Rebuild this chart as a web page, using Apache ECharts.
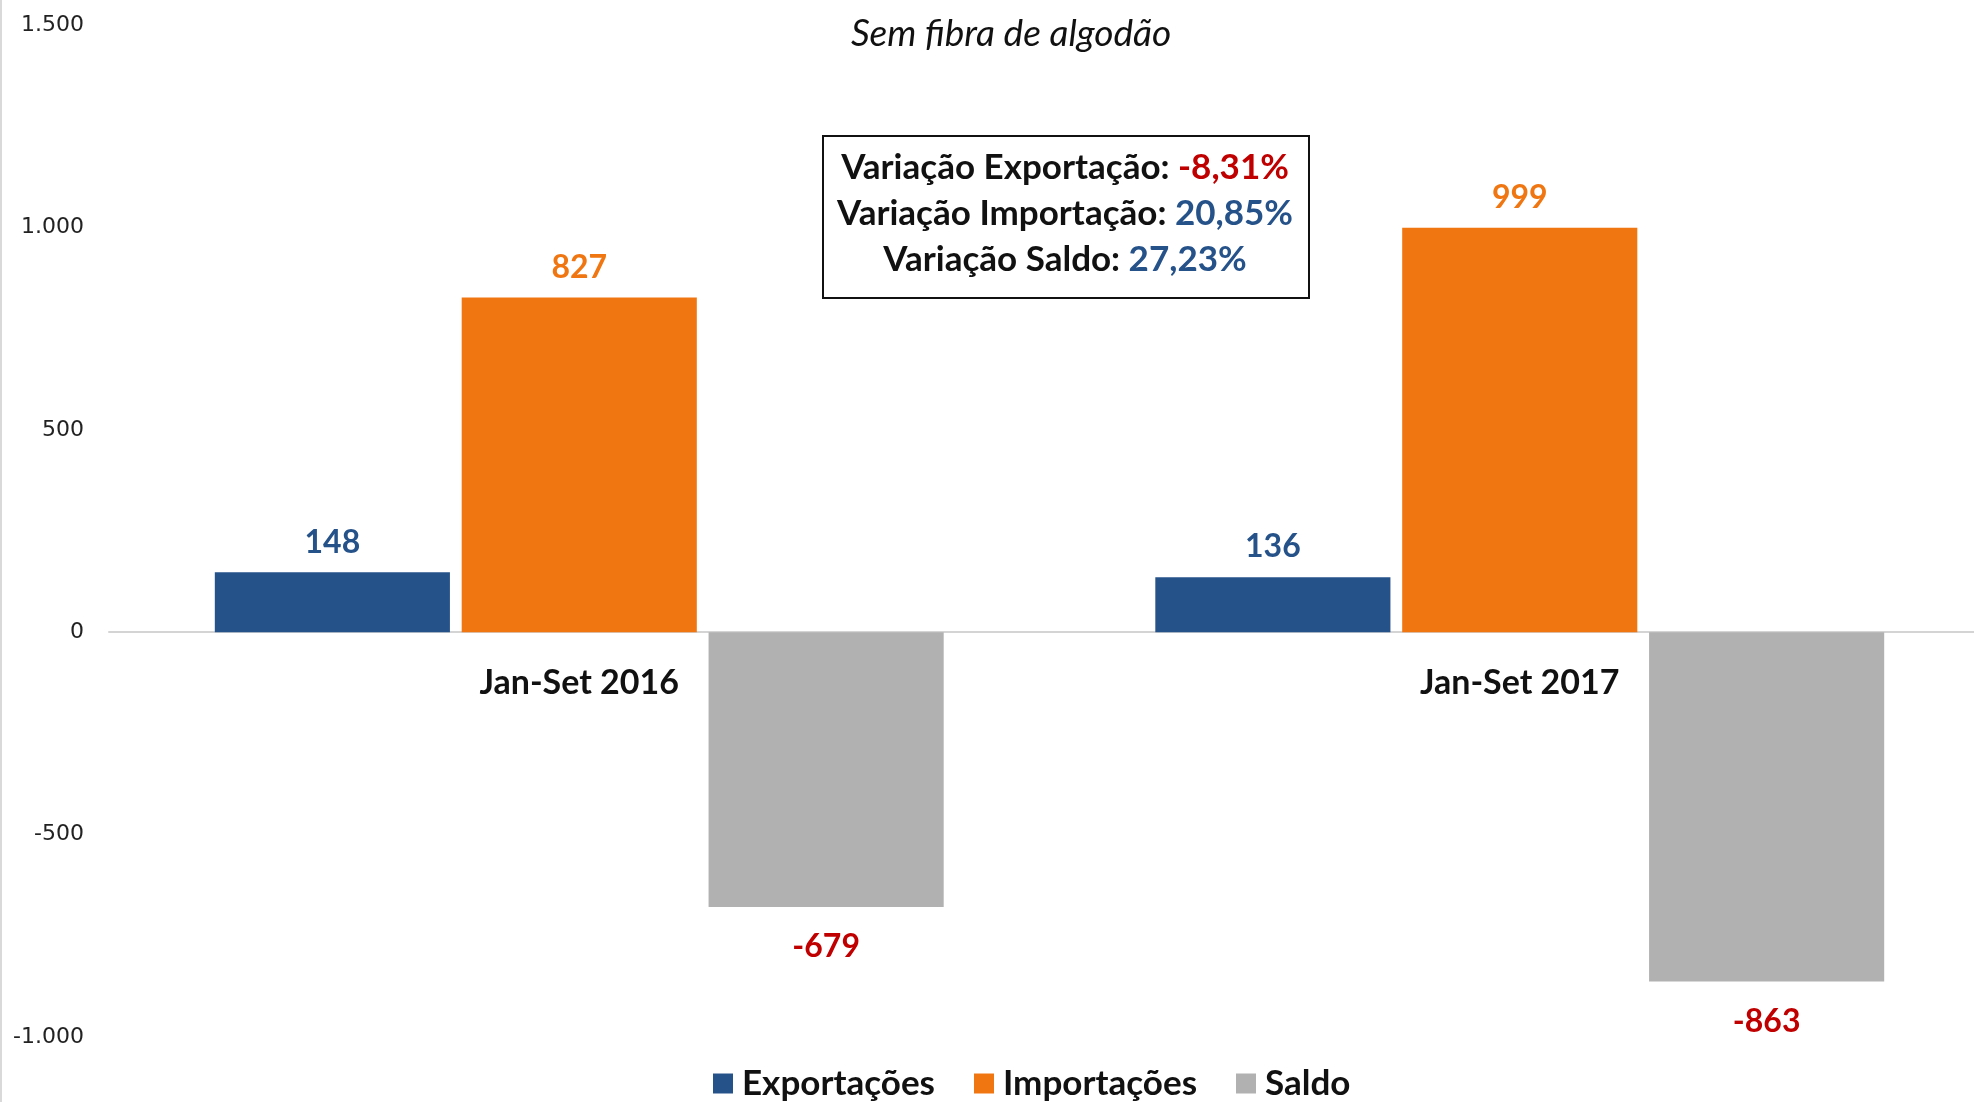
<!DOCTYPE html>
<html>
<head>
<meta charset="utf-8">
<script src="https://cdn.jsdelivr.net/npm/echarts@6/dist/echarts.min.js"></script>
<style>
  html, body { margin: 0; padding: 0; background: #fff; overflow: hidden; }
  /* the plot runs a bit past the right edge of the window in the source */
  #chart { width: 1992px; height: 1102px; }
</style>
</head>
<body>
<div id="chart"></div>
<script>
const categories = ['Jan-Set 2016', 'Jan-Set 2017']
const exportacoes = [148, 136]
const importacoes = [827, 999]
const saldo = [-679, -863]
const yTicks = { min: -1000, max: 1500, interval: 500 }
const variacoes = ['-8,31%', '20,85%', '27,23%']

const font = 'Lato, "Open Sans", sans-serif'
const blue = '#26528a'
const orange = '#f07612'
const gray = '#b1b1b1'
const red = '#c00000'

// grid geometry, x axis drawn on the zero line
const gridTop = 25
const gridBottom = 65
const gridHeight = 1102 - gridTop - gridBottom
const zeroOffset = gridHeight * (0 - yTicks.min) / (yTicks.max - yTicks.min)

const chart = echarts.init(document.getElementById('chart'))

function barLabel(color, pos, dist) {
  return {
    show: true,
    position: pos,
    distance: dist,
    color: color,
    fontFamily: font,
    fontWeight: 'bold',
    fontSize: 32,
  }
}

chart.setOption({
  animation: false,
  title: {
    text: 'Sem fibra de algodão',
    left: 1006,
    top: 11,
    textAlign: 'center',
    textStyle: {
      fontFamily: font,
      fontStyle: 'italic',
      fontWeight: 'normal',
      fontSize: 37,
      color: '#111',
    },
  },
  grid: {
    left: 109,
    right: 2,
    top: gridTop,
    bottom: gridBottom,
    containLabel: false,
  },
  legend: {
    bottom: -4,
    left: 708,
    itemWidth: 20,
    itemHeight: 20,
    itemGap: 39,
    icon: 'rect',
    textStyle: {
      fontFamily: font,
      fontWeight: 'bold',
      fontSize: 35,
      color: '#111',
      padding: [0, 0, 0, 4],
    },
    data: ['Exportações', 'Importações', 'Saldo'],
  },
  xAxis: {
    type: 'category',
    data: categories,
    offset: -zeroOffset,
    axisTick: { show: false },
    axisLine: { onZero: false, lineStyle: { color: '#d4d4d4', width: 2 } },
    axisLabel: {
      margin: 34,
      color: '#111',
      fontFamily: font,
      fontWeight: 'bold',
      fontSize: 34,
    },
  },
  yAxis: {
    type: 'value',
    min: yTicks.min,
    max: yTicks.max,
    interval: yTicks.interval,
    splitLine: { show: false },
    axisLine: { show: false },
    axisTick: { show: false },
    axisLabel: {
      margin: 25,
      color: '#222',
      fontFamily: '"DejaVu Sans", sans-serif',
      fontSize: 22,
      formatter: v => v.toLocaleString('de-DE'),
    },
  },
  series: [
    {
      name: 'Exportações',
      type: 'bar',
      data: exportacoes,
      barGap: '5%',
      barCategoryGap: '22.5%',
      itemStyle: { color: blue },
      label: barLabel(blue, 'top', 14),
    },
    {
      name: 'Importações',
      type: 'bar',
      data: importacoes,
      itemStyle: { color: orange },
      label: barLabel(orange, 'top', 14),
    },
    {
      name: 'Saldo',
      type: 'bar',
      data: saldo,
      itemStyle: { color: gray },
      label: barLabel(red, 'bottom', 24),
    },
  ],
  graphic: [
    {
      type: 'line',
      shape: { x1: 1, y1: 0, x2: 1, y2: 1102 },
      style: { stroke: '#d9d9d9', lineWidth: 2 },
    },
    {
      type: 'rect',
      left: 822,
      top: 135,
      shape: { width: 486, height: 162 },
      style: { fill: '#fff', stroke: '#111', lineWidth: 2 },
      z: 10,
    },
    {
      type: 'text',
      x: 1065,
      y: 145,
      z: 11,
      style: {
        text:
          '{k|Variação Exportação: }{r|' + variacoes[0] + '}\n' +
          '{k|Variação Importação: }{b|' + variacoes[1] + '}\n' +
          '{k|Variação Saldo: }{b|' + variacoes[2] + '}',
        align: 'center',
        verticalAlign: 'top',
        fill: '#111',
        font: 'bold 35px ' + font,
        lineHeight: 46,
        rich: {
          k: { fill: '#111', fontFamily: font, fontWeight: 'bold', fontSize: 35, lineHeight: 46 },
          r: { fill: red, fontFamily: font, fontWeight: 'bold', fontSize: 35, lineHeight: 46 },
          b: { fill: blue, fontFamily: font, fontWeight: 'bold', fontSize: 35, lineHeight: 46 },
        },
      },
    },
  ],
})
</script>
</body>
</html>
